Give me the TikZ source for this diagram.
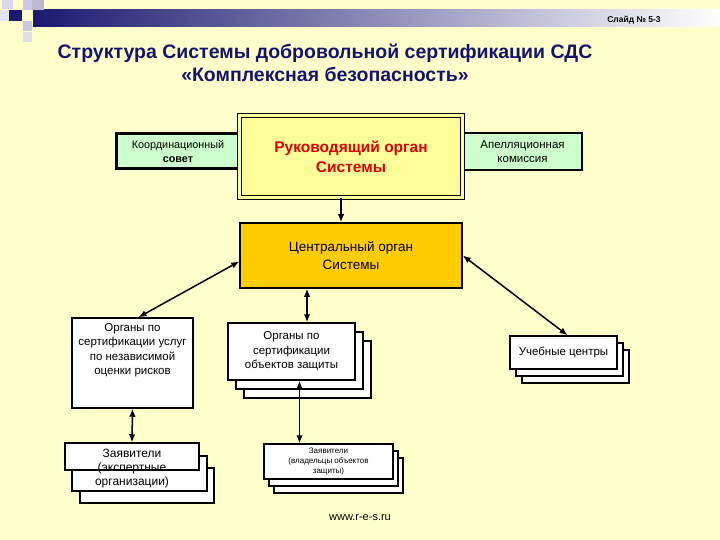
\documentclass[tikz,border=0pt]{standalone}
\usepackage{fontspec}
\setmainfont{Liberation Sans}
\usetikzlibrary{arrows.meta,shadows}
\definecolor{Paper}{HTML}{FFFFCC}
\definecolor{Navy}{HTML}{1A1A70}
\definecolor{Lilac}{HTML}{C8C8E4}
\definecolor{Mint}{HTML}{CCFFCC}
\definecolor{Lemon}{HTML}{FFFF99}
\definecolor{Amber}{HTML}{FFCC00}
\definecolor{Crimson}{HTML}{E00000}
\definecolor{TitleInk}{HTML}{14146E}

\begin{document}
\begin{tikzpicture}[x=1pt,y=-1pt,box/.style={draw=black, fill=white, line width=1.5pt, align=center, inner sep=1pt, font=\fontsize{11.5}{14.5}\selectfont},stack/.style 2 args={box, double copy shadow={shadow xshift=#1, shadow yshift=#2}},greenbox/.style={box, fill=Mint, minimum width=119pt, minimum height=37pt},link/.style={line width=1.5pt, -{Latex[length=8pt,width=6.5pt]}},dbl/.style={line width=1.5pt, {Latex[length=8pt,width=6.5pt]}-{Latex[length=8pt,width=6.5pt]}}]
\fill[Paper] (0,0) rectangle (720,540);
% header strip
\shade[left color=Navy, right color=white] (33,10) rectangle (720,27);
\foreach \xa/\ya/\xb/\yb/\c in {2/0/13/9/Lilac!70,23/0/32/10/Lilac,32/0/44/10/Lilac!80!gray,9/10/22/21/Navy,0/10/9/21/Lilac!50,23/21/32/31/Lilac,23/32/32/42/Lilac!60} {\fill[\c] (\xa,\ya) rectangle (\xb,\yb);}
\node[font=\bfseries\fontsize{8.5}{9}\selectfont] (slide) at (634,20) {Слайд № 5-3};
\node[font=\bfseries\fontsize{19.5}{23}\selectfont, text=TitleInk, align=center] (title) at (325,63) {Структура Системы добровольной сертификации СДС\\«Комплексная безопасность»};
% upper level
\node[greenbox, line width=3pt, minimum width=123pt, minimum height=35pt, font=\fontsize{10.8}{14}\selectfont] (council) at (178,151.5) {Координационный\\\textbf{совет}};
\node[greenbox, font=\fontsize{11.5}{14}\selectfont] (appeal) at (522.5,151.5) {Апелляционная\\комиссия};
\node[box, fill=Lemon, double=Lemon, double distance=2.5pt, line width=1.2pt, minimum width=223pt, minimum height=82pt, font=\bfseries\fontsize{15.5}{20}\selectfont, text=Crimson] (head) at (351,156.5) {Руководящий орган\\Системы};
\node[box, fill=Amber, minimum width=222pt, minimum height=65pt, font=\fontsize{13.5}{18}\selectfont] (central) at (351,255.5) {Центральный орган\\Системы};
% middle level
\node[box, minimum width=121pt, minimum height=90pt] (services) at (132.5,363) {\parbox[c][86pt][t]{119pt}{\centering\vspace{3pt}Органы по\\сертификации услуг\\по независимой\\оценки рисков}};
\node[stack={8pt}{-9pt}, minimum width=127pt, minimum height=57pt] (objects) at (291.5,351.5) {Органы по\\сертификации\\объектов защиты};
\node[stack={6pt}{-7pt}, minimum width=107pt, minimum height=33pt] (training) at (563.5,352.5) {Учебные центры};
% lower level
\draw[line width=1.5pt, fill=white] (80,468) rectangle (214,503);
\draw[line width=1.5pt, fill=white] (72,456) rectangle (207,491);
\node[box, minimum width=134pt, minimum height=27pt] (experts) at (132,456.5) {};
\node[align=center, font=\fontsize{12}{14}\selectfont, anchor=north] (expertstext) at (132,446) {Заявители\\(экспертные\\организации)};
\node[stack={5pt}{-7pt}, minimum width=129pt, minimum height=35pt, font=\fontsize{8}{10}\selectfont] (owners) at (328.5,461.5) {Заявители\\(владельцы объектов\\защиты)};
\node[font=\fontsize{11}{12}\selectfont] (site) at (360,518) {www.r-e-s.ru};
% connectors
\draw[link] ([xshift=-10pt]head.south) -- ([xshift=-10pt]head.south |- central.north);
\draw[dbl] ([yshift=-6pt]central.west) -- ([xshift=6pt]services.north);
\draw[dbl] (central.east) -- ([xshift=4pt]training.north);
\draw[dbl] ([xshift=-44pt]central.south) -- ([xshift=-44pt]central.south |- objects.north);
\draw[dbl] (services.south) -- (experts.north);
\draw[dbl] ([xshift=8pt]objects.south) -- ([xshift=8pt]objects.south |- owners.north);
\end{tikzpicture}
\end{document}
